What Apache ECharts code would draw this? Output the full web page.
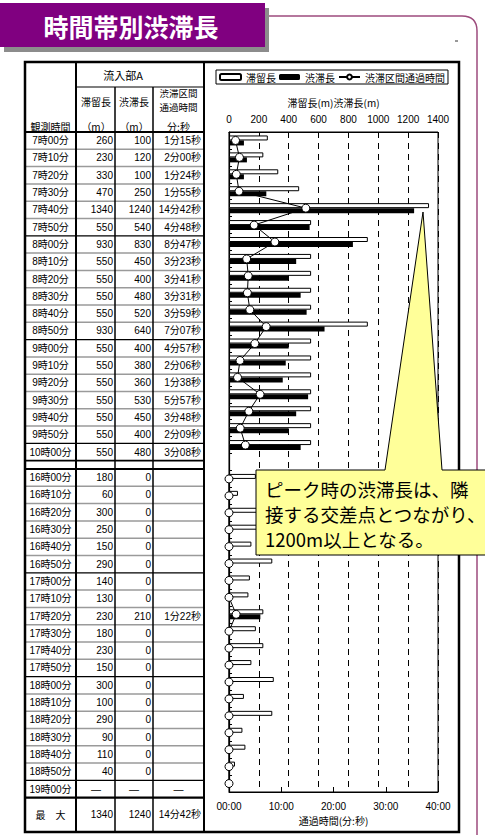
<!DOCTYPE html>
<html><head><meta charset="utf-8">
<script src="https://cdn.jsdelivr.net/npm/echarts@6/dist/echarts.min.js"></script>
<style>html,body{margin:0;padding:0;background:#fff;overflow:hidden}#c{width:485px;height:835px}</style>
</head><body><div id="c"></div><script>
// ---- data ----
const amTimes = ['7時00分','7時10分','7時20分','7時30分','7時40分','7時50分','8時00分','8時10分','8時20分','8時30分','8時40分','8時50分','9時00分','9時10分','9時20分','9時30分','9時40分','9時50分','10時00分'];
const amStay = [260,230,330,470,1340,550,930,550,550,550,550,930,550,550,550,550,550,550,550];
const amJam  = [100,120,100,250,1240,540,830,450,400,480,520,640,400,380,360,530,450,400,480];
const amPass = ['1:15','2:00','1:24','1:55','14:42','4:48','8:47','3:23','3:41','3:31','3:59','7:07','4:57','2:06','1:38','5:57','3:48','2:09','3:08'];
const pmTimes = ['16時00分','16時10分','16時20分','16時30分','16時40分','16時50分','17時00分','17時10分','17時20分','17時30分','17時40分','17時50分','18時00分','18時10分','18時20分','18時30分','18時40分','18時50分','19時00分'];
const pmStay = [180,60,300,250,150,290,140,130,230,180,230,150,300,100,290,90,110,40,null];
const pmJam  = [0,0,0,0,0,0,0,0,210,0,0,0,0,0,0,0,0,0,null];
const pmPass = [null,null,null,null,null,null,null,null,'1:22',null,null,null,null,null,null,null,null,null,null];
const topTicks = [0,200,400,600,800,1000,1200,1400];
const bottomTickLabels = ['00:00','10:00','20:00','30:00','40:00'];
const legendNames = ['滞留長','渋滞長','渋滞区間通過時間'];

// ---- helpers ----
const FONT = "'Liberation Sans','Noto Sans CJK JP',sans-serif";
const JFONT = "'Noto Sans CJK JP',sans-serif";
function toMin(s){ if(!s) return null; const p=s.split(':'); return Number(p[0])+Number(p[1])/60; }
function toJP(s){ const p=s.split(':'); return p[0]+'分'+p[1]+'秒'; }

const categories = amTimes.concat([''], pmTimes);
const stayData = amStay.concat([null], pmStay);
const jamData = amJam.concat([null], pmJam);
const passData = amPass.map(toMin).concat([null], pmPass.map(p => p ? toMin(p) : 0));

// ---- table + frame graphics ----
const G = [];
const X = [25,76,115,153,204], R = 459;
const HT = 62, HB = 132, RH = 17.3;
const gapTop = HB + amTimes.length*RH, gapBot = gapTop + 8.3;
const maxTop = gapBot + pmTimes.length*RH, BOT = 832;
function L(x1,y1,x2,y2,c,w,z){ G.push({type:'line',silent:true,z:z||10,shape:{x1,y1,x2,y2},style:{stroke:c,lineWidth:w}}); }
function T(x,y,s,al,extra){ G.push({type:'text',silent:true,z:20,x:x,y:y,style:Object.assign({text:s,fill:'#000',fontSize:10,fontFamily:FONT,align:al,textAlign:al,verticalAlign:'middle',textVerticalAlign:'middle'},extra||{})}); }

// title banner
G.push({type:'rect',silent:true,z:1,shape:{x:4,y:8,width:265,height:44},style:{fill:'#8c8c8c'}});
G.push({type:'rect',silent:true,z:2,shape:{x:0,y:3,width:265,height:44},style:{fill:'#800080'}});
T(131,26,'時間帯別渋滞長','center',{fill:'#fff',fontSize:25,fontWeight:'bold',fontFamily:JFONT});
// purple rounded frame
L(269,16,462,16,'#9c4a7c',1.5,1);
G.push({type:'bezierCurve',silent:true,z:1,shape:{x1:462,y1:16,x2:477,y2:31,cpx1:477,cpy1:16},style:{stroke:'#9c4a7c',lineWidth:1.5,fill:null}});
L(477,31,477,840,'#9c4a7c',1.5,1);
L(455,41,458,41,'#333',1);

function rows(times, stay, jam, pass, top){
  times.forEach((t,i)=>{
    const y0 = top + i*RH, yc = y0 + RH/2;
    const hour = t.endsWith('00分');
    if(i>0) L(X[0],y0,X[4],y0, hour?'#000':'#9a9a9a', hour?1.2:1.5);
    T(50.5,yc,t,'center');
    if(stay[i]==null){ T(96,yc,'—','center'); T(134,yc,'—','center'); T(178.5,yc,'—','center'); }
    else {
      T(113,yc,String(stay[i]),'right');
      T(151,yc,String(jam[i]),'right');
      if(pass[i]) T(201,yc,toJP(pass[i]),'right');
    }
  });
}
rows(amTimes, amStay, amJam, amPass, HB);
rows(pmTimes, pmStay, pmJam, pmPass, gapBot);

// header
T(123,75,'流入部A','center',{fontSize:11,fontFamily:JFONT});
T(96,101,'滞留長','center',{fontFamily:JFONT});
T(134,101,'渋滞長','center',{fontFamily:JFONT});
T(178.5,99.5,'渋滞区間\n通過時間','center',{fontFamily:JFONT,fontSize:9.5,lineHeight:14});
T(96,126,'（m）','center',{fontFamily:JFONT});
T(134,126,'（m）','center',{fontFamily:JFONT});
T(178.5,126,'分:秒','center',{fontFamily:JFONT});
T(50.5,126,'観測時間','center',{fontFamily:JFONT});
// max row
const allStay = amStay.concat(pmStay).filter(v=>v!=null);
const allJam = amJam.concat(pmJam).filter(v=>v!=null);
const allPass = amPass.concat(pmPass).filter(v=>v);
const maxPass = allPass.reduce((a,b)=> toMin(b)>toMin(a)?b:a);
const ym = (maxTop+BOT)/2;
T(50.5,ym,'最　大','center',{fontFamily:JFONT});
T(113,ym,String(Math.max(...allStay)),'right');
T(151,ym,String(Math.max(...allJam)),'right');
T(201,ym,toJP(maxPass),'right');

// table lines
L(X[1],87,X[4],87,'#000',1.2);
L(X[0],HB,X[4],HB,'#000',2);
L(X[0],gapTop,X[4],gapTop,'#000',1.8);
L(X[0],gapBot,X[4],gapBot,'#000',1.8);
L(X[0],maxTop,X[4],maxTop,'#000',2.2);
L(X[1],HT,X[1],BOT,'#000',2);
L(X[2],87,X[2],BOT,'#000',1.5);
L(X[3],87,X[3],BOT,'#000',1.5);
L(X[4],HT,X[4],BOT,'#000',2);
G.push({type:'rect',silent:true,z:50,shape:{x:X[0],y:HT,width:R-X[0],height:BOT-HT},style:{fill:null,stroke:'#000',lineWidth:2.5}});

// callout
G.push({type:'polygon',silent:true,z:100,shape:{points:[[256,470],[385,470],[423,212],[442,470],[492,470],[492,555],[256,555]]},style:{fill:'#ffff99',stroke:'#000',lineWidth:1}});
G.push({type:'text',silent:true,z:101,x:265,y:476,style:{text:'ピーク時の渋滞長は、隣\n接する交差点とつながり、\n1200m以上となる。',fill:'#000',fontSize:18.5,fontFamily:JFONT,lineHeight:25,align:'left',textAlign:'left',verticalAlign:'top',textVerticalAlign:'top'}});

const chart = echarts.init(document.getElementById('c'), null, {renderer:'svg'});
chart.setOption({
  animation:false,
  backgroundColor:'#fff',
  textStyle:{fontFamily:FONT,color:'#000'},
  legend:{
    data:legendNames, left:216, top:70, itemWidth:21, itemHeight:6, itemGap:3, padding:[2,3],
    borderColor:'#000', borderWidth:1, textStyle:{fontSize:10,color:'#000',fontFamily:JFONT}
  },
  grid:{left:229, top:132, width:209, height:660, show:true, borderColor:'#000', borderWidth:1, backgroundColor:'#fff', containLabel:false},
  xAxis:[
    {type:'value', position:'top', min:topTicks[0], max:topTicks[topTicks.length-1], interval:topTicks[1]-topTicks[0],
     axisLine:{show:true,lineStyle:{color:'#000',width:1}}, axisTick:{show:true,inside:true,length:4,lineStyle:{color:'#000'}},
     axisLabel:{fontSize:10,color:'#000',margin:8, formatter:(v)=>String(v)},
     splitLine:{show:true,lineStyle:{color:'#000',type:[6,5],width:1}},
     name:'滞留長(m)渋滞長(m)', nameLocation:'middle', nameGap:25, nameTextStyle:{fontSize:10,color:'#000',fontFamily:JFONT}},
    {type:'value', position:'bottom', min:0, max:40, interval:10,
     axisLine:{show:true,lineStyle:{color:'#000',width:1}}, axisTick:{show:true,inside:true,length:5,lineStyle:{color:'#000'}},
     axisLabel:{fontSize:10,color:'#000',margin:9, formatter:(v)=>bottomTickLabels[Math.round(v/10)]},
     splitLine:{show:false},
     name:'通過時間(分:秒)', nameLocation:'middle', nameGap:22, nameTextStyle:{fontSize:10,color:'#000',fontFamily:JFONT}}
  ],
  yAxis:{type:'category', inverse:true, data:categories,
    axisLabel:{show:false}, axisTick:{show:true,inside:true,length:3,lineStyle:{color:'#000'}},
    axisLine:{show:true,lineStyle:{color:'#000',width:1.2}}, splitLine:{show:false}},
  series:[
    {name:'滞留長', type:'bar', xAxisIndex:0, data:stayData, barWidth:5, barGap:'0%',
     itemStyle:{color:'#fff',borderColor:'#000',borderWidth:1}},
    {name:'渋滞長', type:'bar', xAxisIndex:0, data:jamData, barWidth:5,
     itemStyle:{color:'#000'}},
    {name:'渋滞区間通過時間', type:'line', xAxisIndex:1, data:passData, symbol:'circle', symbolSize:8,
     showAllSymbol:true, connectNulls:false, z:5,
     itemStyle:{color:'#fff',borderColor:'#000',borderWidth:1}, lineStyle:{color:'#000',width:1}}
  ],
  graphic:{elements:G}
});
</script></body></html>
